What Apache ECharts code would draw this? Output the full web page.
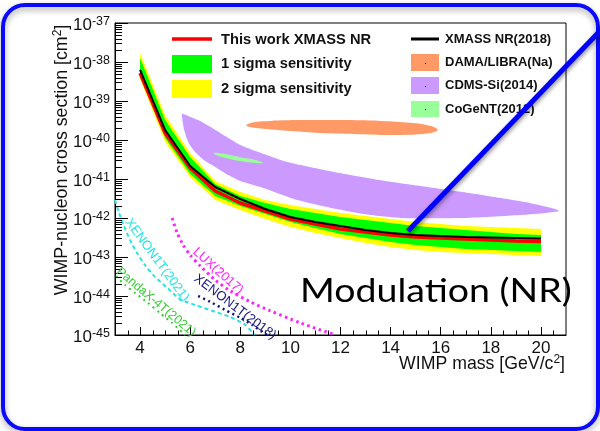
<!DOCTYPE html>
<html>
<head>
<meta charset="utf-8">
<script src="https://cdn.jsdelivr.net/npm/echarts@6.0.0/dist/echarts.min.js"></script>
<style>
  html, body { margin: 0; padding: 0; background: #ffffff; }
  #chart { width: 600px; height: 431px; }
</style>
</head>
<body>
<div id="chart"></div>
<script>
// WIMP mass grid [GeV/c^2] for the XMASS curves and sensitivity bands
const massGrid = [4, 5, 6, 7, 8, 9, 10, 11, 12, 13, 14, 15, 16, 17, 18, 19, 20];

// Cross sections [cm^2]
const thisWorkXmassNR = [5.22e-39, 1.51e-40, 1.91e-41, 4.92e-42, 2.43e-42, 1.51e-42, 9.42e-43, 7.02e-43, 5.22e-43, 4.38e-43, 3.66e-43, 3.26e-43, 3.07e-43, 2.90e-43, 2.73e-43, 2.57e-43, 2.49e-43];
const xmassNR2018 = [6.24e-39, 1.80e-40, 2.15e-41, 6.24e-42, 3.07e-42, 1.70e-42, 1.06e-42, 7.88e-43, 6.24e-43, 4.92e-43, 4.12e-43, 3.66e-43, 3.45e-43, 3.26e-43, 3.16e-43, 3.07e-43, 2.98e-43];
const sigma2Upper = [1.70e-38, 4.38e-40, 4.64e-41, 8.89e-42, 4.64e-42, 2.90e-42, 2.15e-42, 1.70e-42, 1.34e-42, 1.12e-42, 9.42e-43, 7.88e-43, 7.02e-43, 6.24e-43, 5.88e-43, 5.55e-43, 5.22e-43];
const sigma1Upper = [1.27e-38, 3.26e-40, 3.66e-41, 7.45e-42, 3.66e-42, 2.43e-42, 1.70e-42, 1.34e-42, 1.06e-42, 8.89e-43, 7.45e-43, 6.24e-43, 5.55e-43, 4.92e-43, 4.38e-43, 3.89e-43, 3.66e-43];
const sigma1Lower = [4.64e-39, 1.12e-40, 1.34e-41, 3.66e-42, 2.03e-42, 1.27e-42, 7.88e-43, 5.55e-43, 3.89e-43, 3.07e-43, 2.43e-43, 2.03e-43, 1.80e-43, 1.60e-43, 1.51e-43, 1.43e-43, 1.34e-43];
const sigma2Lower = [3.66e-39, 8.89e-41, 1.12e-41, 2.90e-42, 1.60e-42, 9.42e-43, 5.88e-43, 4.12e-43, 3.07e-43, 2.29e-43, 1.80e-43, 1.51e-43, 1.34e-43, 1.27e-43, 1.19e-43, 1.12e-43, 1.06e-43];

// Allowed regions, contour points [mass, cross section]
const damaLibraNa = [[8.24, 2.40e-40], [8.6, 2.88e-40], [9.2, 3.09e-40], [10.4, 3.24e-40], [12.0, 3.24e-40], [13.6, 3.09e-40], [14.8, 2.75e-40], [15.6, 2.29e-40], [15.88, 1.82e-40], [15.6, 1.51e-40], [14.4, 1.35e-40], [12.8, 1.41e-40], [11.2, 1.51e-40], [10.0, 1.70e-40], [9.0, 1.91e-40], [8.4, 2.14e-40]];
const cdmsSi2014 = [[5.68, 4.68e-40], [6.0, 3.89e-40], [6.4, 3.09e-40], [6.88, 2.04e-40], [7.4, 1.26e-40], [8.0, 7.41e-41], [8.8, 4.68e-41], [9.6, 3.09e-41], [10.4, 2.29e-41], [12.0, 1.41e-41], [13.6, 9.33e-42], [15.2, 6.61e-42], [16.8, 4.68e-42], [18.4, 3.24e-42], [19.6, 2.40e-42], [20.4, 1.82e-42], [20.72, 1.51e-42], [20.2, 1.35e-42], [19.2, 1.20e-42], [16.8, 1.00e-42], [14.4, 1.00e-42], [12.92, 1.26e-42], [11.6, 1.82e-42], [10.28, 2.88e-42], [8.92, 5.89e-42], [8.0, 8.91e-42], [7.52, 1.26e-41], [7.0, 2.04e-41], [6.6, 2.88e-41], [6.2, 4.90e-41], [5.92, 8.91e-41], [5.76, 1.82e-40], [5.68, 3.63e-40]];
const cogent2012 = [[6.96, 4.68e-41], [7.4, 4.37e-41], [8.0, 3.63e-41], [8.6, 3.09e-41], [8.92, 2.57e-41], [8.6, 2.57e-41], [8.0, 2.88e-41], [7.4, 3.47e-41], [7.0, 4.17e-41]];

// Exclusion limits [mass, cross section]
const lux2017 = [[5.28, 1.0e-42], [5.48, 4.17e-43], [5.72, 2.04e-43], [6.0, 1.12e-43], [6.4, 5.89e-44], [7.0, 2.57e-44], [7.6, 1.35e-44], [8.4, 7.08e-45], [9.2, 4.17e-45], [10.4, 2.04e-45], [11.8, 1.0e-45]];
const xenon1t2018 = [[6.32, 1.0e-44], [6.8, 7.08e-45], [7.4, 4.37e-45], [8.0, 2.75e-45], [8.48, 1.82e-45], [8.88, 1.20e-45], [9.08, 1.0e-45]];
const xenon1t2021 = [[3.0, 2.88e-42], [3.16, 1.35e-42], [3.36, 6.17e-43], [3.6, 2.75e-43], [3.88, 1.26e-43], [4.2, 6.17e-44], [4.6, 3.09e-44], [5.08, 1.62e-44], [5.6, 8.32e-45], [6.2, 5.89e-45], [6.88, 4.17e-45], [7.6, 2.88e-45], [8.2, 1.82e-45], [8.56, 1.0e-45]];
const pandax4t2021 = [[3.04, 3.24e-44], [3.4, 1.91e-44], [3.8, 1.20e-44], [4.32, 6.61e-45], [4.8, 3.63e-45], [5.28, 2.04e-45], [5.8, 1.0e-45]];

// Axis ranges (mass linear, cross section in decades) and tick values
const massMin = 3, massMax = 21;
const decadeMin = -45, decadeMax = -37;
const massTickLabels = [4, 6, 8, 10, 12, 14, 16, 18, 20];
const massMinorTicks = [];
for (let m = massMin + 0.5; m < massMax; m += 0.5) {
  if (massTickLabels.indexOf(m) < 0) massMinorTicks.push(m);
}
const decadeMinorTicks = [];
for (let p = decadeMin; p < decadeMax; p++) {
  for (let k = 2; k <= 9; k++) decadeMinorTicks.push(p + Math.log10(k));
}

const FONT = 'Liberation Sans, Arial, Helvetica, sans-serif';

// the vertical axis runs in log10 of the cross section
const lg = v => Math.log10(v);
const toPlot = pts => pts.map(p => [p[0], lg(p[1])]);
function zipCurve(xs, ys) { return xs.map((x, i) => [x, lg(ys[i])]); }
function bandPolygon(upper, lower) {
  return zipCurve(massGrid, upper).concat(zipCurve(massGrid, lower).reverse());
}

// Filled polygon drawn through the axes' coordinate system
function polygonSeries(name, points, color, z, smooth) {
  return {
    type: 'custom', name: name, z: z, silent: true,
    data: points,
    encode: { x: 0, y: 1 },
    renderItem: function (params, api) {
      if (params.dataIndex !== 0) return null;
      const pts = points.map(p => api.coord(p));
      return {
        type: 'polygon',
        shape: { points: pts, smooth: smooth || 0 },
        style: { fill: color, stroke: null }
      };
    }
  };
}

function limitSeries(name, points, color, width, dash) {
  return {
    type: 'line', name: name, z: 6, silent: true,
    data: toPlot(points), showSymbol: false, smooth: 0.25,
    lineStyle: { color: color, width: width, type: dash, cap: 'butt' }
  };
}

function tickSeries(values, horizontal, len) {
  return {
    type: 'custom', silent: true, z: 8, clip: false,
    data: values.map(v => horizontal ? [massMin, v] : [v, decadeMin]),
    encode: { x: 0, y: 1 },
    renderItem: function (params, api) {
      const p = api.coord([api.value(0), api.value(1)]);
      if (horizontal) {
        const y = Math.round(p[1]) + 0.5;
        return { type: 'line', shape: { x1: p[0], y1: y, x2: p[0] + len, y2: y }, style: { stroke: '#000', lineWidth: 1 } };
      }
      const x = Math.round(p[0]) + 0.5;
      return { type: 'line', shape: { x1: x, y1: p[1], x2: x, y2: p[1] - len }, style: { stroke: '#000', lineWidth: 1 } };
    }
  };
}

const chart = echarts.init(document.getElementById('chart'), null, { renderer: 'canvas' });

const supRich = {
  b: { fontSize: 17, fontFamily: FONT, color: '#111', padding: [4, 0, 0, 0], verticalAlign: 'middle' },
  s: { fontSize: 12.5, fontFamily: FONT, color: '#111', padding: [0, 0, 3, 0], verticalAlign: 'middle' }
};

function legendText(x, y, text, size) {
  return { type: 'text', x: x, y: y, z: 50,
    style: { text: text, fontFamily: FONT, fontWeight: 'bold', fontSize: size, fill: '#111', align: 'left', verticalAlign: 'middle' } };
}
function legendBox(x, y, w, h, color, dot) {
  const els = [{ type: 'rect', z: 50, shape: { x: x, y: y, width: w, height: h }, style: { fill: color } }];
  if (dot) els.push({ type: 'rect', z: 51, shape: { x: Math.round(x + w / 2), y: Math.round(y + h / 2), width: 1, height: 1 }, style: { fill: '#000' } });
  return els;
}
function curveLabel(x, y, text, color, angleDeg, size) {
  return { type: 'text', x: x, y: y, z: 40, rotation: -angleDeg * Math.PI / 180,
    style: { text: text, fontFamily: FONT, fontSize: size, fill: color, align: 'center', verticalAlign: 'middle' } };
}

const graphics = [
  // slide frame
  { type: 'rect', z: 1, shape: { x: 3, y: 5, width: 595, height: 424, r: 22 },
    style: { fill: null, stroke: '#0a0aff', lineWidth: 4, shadowBlur: 6, shadowColor: 'rgba(0,0,0,0.35)', shadowOffsetY: 3 } },
  // left legend
  { type: 'line', z: 50, shape: { x1: 172, y1: 39, x2: 212, y2: 39 }, style: { stroke: '#ff0000', lineWidth: 3.5 } },
  ...legendBox(172, 55, 40, 18, '#00ff00', false),
  ...legendBox(172, 80, 40, 18, '#ffff00', false),
  legendText(221, 40, 'This work XMASS NR', 14.7),
  legendText(221, 64, '1 sigma sensitivity', 14.7),
  legendText(221, 89, '2 sigma sensitivity', 14.7),
  // right legend
  { type: 'line', z: 50, shape: { x1: 411, y1: 39, x2: 439, y2: 39 }, style: { stroke: '#000000', lineWidth: 3 } },
  ...legendBox(411, 54, 28, 17, '#ff9966', true),
  ...legendBox(411, 77, 28, 17, '#cc99ff', true),
  ...legendBox(411, 101, 28, 16, '#99ff99', true),
  legendText(445, 39, 'XMASS NR(2018)', 13),
  legendText(445, 62, 'DAMA/LIBRA(Na)', 13),
  legendText(445, 85, 'CDMS-Si(2014)', 13),
  legendText(445, 109, 'CoGeNT(2012)', 13),
  // limit curve labels
  curveLabel(157, 260, 'XENON1T(2021)', '#22e5e5', 53.6, 13),
  curveLabel(156, 302, 'PandaX-4T(2021)', '#33cc33', 40, 12.5),
  curveLabel(218, 271, 'LUX(2017)', '#ff22ff', 42, 13),
  curveLabel(235, 307, 'XENON1T(2018)', '#141480', 37, 13),
  // axis titles
  { type: 'text', x: 62, y: 160, z: 30, rotation: Math.PI / 2,
    style: { text: 'WIMP-nucleon cross section [cm{s|2}]', fontFamily: FONT, fontSize: 17.8, fill: '#111', align: 'center', verticalAlign: 'middle',
      rich: { s: { fontSize: 12, fontFamily: FONT, fill: '#111', padding: [0, 0, 8, 0] } } } },
  { type: 'text', x: 565, y: 364, z: 30,
    style: { text: 'WIMP mass [GeV/c{s|2}]', fontFamily: FONT, fontSize: 17.7, fill: '#111', align: 'right', verticalAlign: 'middle',
      rich: { s: { fontSize: 12, fontFamily: FONT, fill: '#111', padding: [0, 0, 8, 0] } } } },
  // slide caption
  { type: 'text', x: 300, y: 292, z: 60, scaleY: 0.85,
    style: { text: 'Modulation (NR)', fontFamily: 'Lato, "Open Sans", sans-serif', fontSize: 37.5, fill: '#000', align: 'left', verticalAlign: 'middle' } },
  // pointer line
  { type: 'line', z: 100, shape: { x1: 408, y1: 231, x2: 622, y2: 8 },
    style: { stroke: '#0000ff', lineWidth: 5, shadowBlur: 4, shadowColor: 'rgba(0,0,0,0.45)', shadowOffsetX: 1, shadowOffsetY: 2 } }
];

const option = {
  backgroundColor: '#ffffff',
  animation: false,
  grid: { left: 115, top: 23, right: 34, bottom: 96, show: true, borderColor: '#000', borderWidth: 1, backgroundColor: 'transparent' },
  xAxis: {
    type: 'value', min: massMin, max: massMax,
    splitLine: { show: false },
    axisLine: { show: true, lineStyle: { color: '#000', width: 1 } },
    axisTick: { show: true, inside: true, length: 8, customValues: massTickLabels, lineStyle: { color: '#000' } },
    axisLabel: { show: true, customValues: massTickLabels, margin: 5, fontFamily: FONT, fontSize: 17, color: '#111' }
  },
  yAxis: {
    type: 'value', min: decadeMin, max: decadeMax, interval: 1,
    splitLine: { show: false },
    axisLine: { show: true, lineStyle: { color: '#000', width: 1 } },
    axisTick: { show: true, inside: true, length: 13, lineStyle: { color: '#000' } },
    axisLabel: {
      show: true, margin: 5,
      formatter: function (v) { return '{b|10}{s|' + Math.round(v) + '}'; },
      rich: supRich
    }
  },
  graphic: graphics,
  series: [
    polygonSeries('DAMA/LIBRA(Na)', toPlot(damaLibraNa), '#ff9966', 2, 0.4),
    polygonSeries('CDMS-Si(2014)', toPlot(cdmsSi2014), '#cc99ff', 2, 0.2),
    polygonSeries('CoGeNT(2012)', toPlot(cogent2012), '#99ff99', 3, 0.4),
    polygonSeries('2 sigma sensitivity', bandPolygon(sigma2Upper, sigma2Lower), '#ffff00', 4, 0),
    polygonSeries('1 sigma sensitivity', bandPolygon(sigma1Upper, sigma1Lower), '#00ff00', 4, 0),
    {
      type: 'line', name: 'This work XMASS NR', z: 5, silent: true,
      data: zipCurve(massGrid, thisWorkXmassNR), showSymbol: false,
      lineStyle: { color: '#ff0000', width: 3.5 }
    },
    {
      type: 'line', name: 'XMASS NR(2018)', z: 5, silent: true,
      data: zipCurve(massGrid, xmassNR2018), showSymbol: false,
      lineStyle: { color: '#000000', width: 2 }
    },
    limitSeries('LUX(2017)', lux2017, '#ff22ff', 3, [2.5, 3.5]),
    limitSeries('XENON1T(2018)', xenon1t2018, '#141480', 2.5, [2, 3.5]),
    limitSeries('XENON1T(2021)', xenon1t2021, '#22e5e5', 2, [4, 3]),
    limitSeries('PandaX-4T(2021)', pandax4t2021, '#33cc33', 2, [2, 4]),
    tickSeries(decadeMinorTicks, true, 7),
    tickSeries(massMinorTicks, false, 4.5)
  ]
};

chart.setOption(option);
</script>
</body>
</html>
